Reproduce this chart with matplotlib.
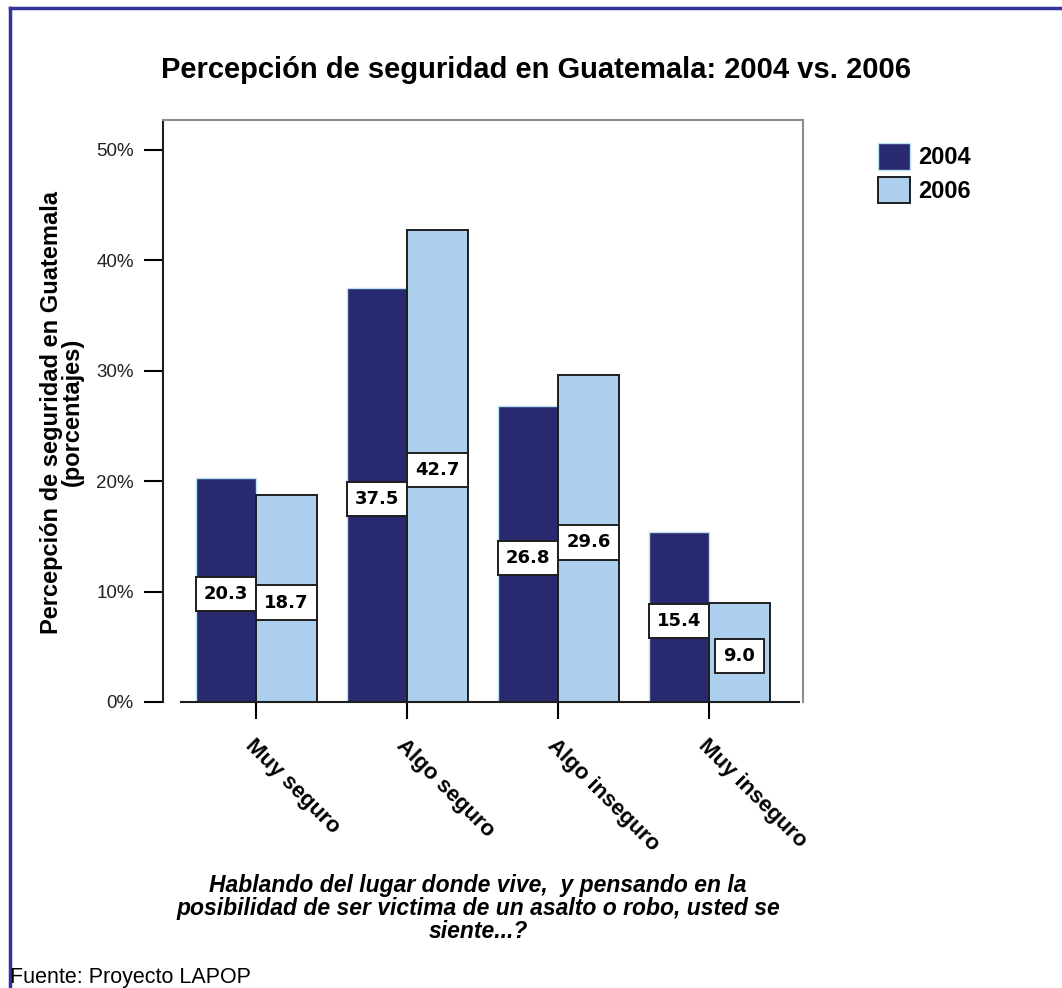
import numpy as np
import matplotlib
matplotlib.use("Agg")
import matplotlib.pyplot as plt
from matplotlib.patches import Patch
from matplotlib.lines import Line2D

#datos
categorias = ["Muy seguro", "Algo seguro", "Algo inseguro", "Muy inseguro"]
anios = ["2004", "2006"]
v2004 = [20.3, 37.5, 26.8, 15.4]
v2006 = [18.7, 42.7, 29.6, 9.0]
yticks = [0, 10, 20, 30, 40, 50]

c2004 = '#29296f'
c2006 = '#abcfed'

plt.rcParams['font.family'] = ['Liberation Sans', 'DejaVu Sans']

fig = plt.figure(figsize=(10.62, 9.88), dpi=100)
ax = fig.add_axes([163/1062, 1 - 702/988, 640/1062, 582/988])

x = np.arange(len(categorias))
w = 0.4
ax.bar(x - w/2, v2004, width=w, color=c2004, edgecolor='#b9e3f2', linewidth=1.0, zorder=2)
ax.bar(x + w/2, v2006, width=w, color=c2006, edgecolor='#1e1e1e', linewidth=1.4, zorder=2)

#etiquetas de valores en cajas blancas, a media altura de la barra
for xs, vals in [(x - w/2, v2004), (x + w/2, v2006)]:
    for xi, v in zip(xs, vals):
        ax.text(xi, v/2 - 0.35, "%.1f" % v, ha='center', va='center',
                family='DejaVu Sans', fontsize=13, fontweight='bold', zorder=4,
                bbox=dict(boxstyle='square,pad=0.45', fc='white', ec='#1e1e1e', lw=1.4))

ax.set_xlim(-0.616, 3.62)
ax.set_ylim(0, 52.7)
ax.set_yticks(yticks)
ax.set_yticklabels(["%d%%" % t for t in yticks], fontsize=13.5, color='#222222')
ax.set_xticks(x)
ax.set_xticklabels(categorias, rotation=-45, ha='left', va='top',
                   rotation_mode='anchor', fontsize=16, fontweight='bold')
ax.tick_params(axis='y', direction='out', length=14, width=1.5, pad=7)
ax.tick_params(axis='x', direction='out', length=12, width=1.5, pad=12)

for s in ['top', 'right']:
    ax.spines[s].set_color('#8c8c8c')
    ax.spines[s].set_linewidth(1.5)
ax.spines['left'].set_color('#1e1e1e')
ax.spines['left'].set_linewidth(1.5)
ax.spines['bottom'].set_visible(False)
ax.hlines(0, -0.503, 3.6, color='#1e1e1e', lw=1.5, zorder=3, clip_on=False)

fig.text(536/1062, 1 - 70/988, "Percepción de seguridad en Guatemala: 2004 vs. 2006",
         ha='center', va='center', fontsize=21, fontweight='bold')

fig.text(62/1062, 1 - 412/988, "Percepción de seguridad en Guatemala\n(porcentajes)",
         ha='center', va='center', rotation=90, fontsize=17, fontweight='bold',
         linespacing=0.92)

fig.text(478/1062, 1 - 874/988,
         "Hablando del lugar donde vive,  y pensando en la\n"
         "posibilidad de ser victima de un asalto o robo, usted se\n"
         "siente...?",
         ha='center', va='top', fontsize=16.5, fontweight='bold', style='italic',
         linespacing=1.0)

fig.text(10/1062, 5/988, "Fuente: Proyecto LAPOP", ha='left', va='baseline',
         fontsize=15.5)

handles = [Patch(facecolor=c2004, edgecolor='#b9e3f2', lw=1.0),
           Patch(facecolor=c2006, edgecolor='#1e1e1e', lw=1.4)]
leg = fig.legend(handles, anios, loc='upper left', bbox_to_anchor=(878/1062, 1 - 143/988),
                 frameon=False, fontsize=17, handlelength=1.35, handleheight=1.35,
                 handletextpad=0.35, labelspacing=0.3, borderpad=0, borderaxespad=0)
for t in leg.get_texts():
    t.set_fontweight('bold')

#marco azul arriba y a la izquierda
fig.add_artist(Line2D([10/1062, 1.0], [1 - 8/988, 1 - 8/988], color='#333399', lw=2.5))
fig.add_artist(Line2D([10/1062, 10/1062], [0.0, 1 - 8/988], color='#333399', lw=2.5))

fig.savefig("out.png", dpi=100, facecolor='white')
